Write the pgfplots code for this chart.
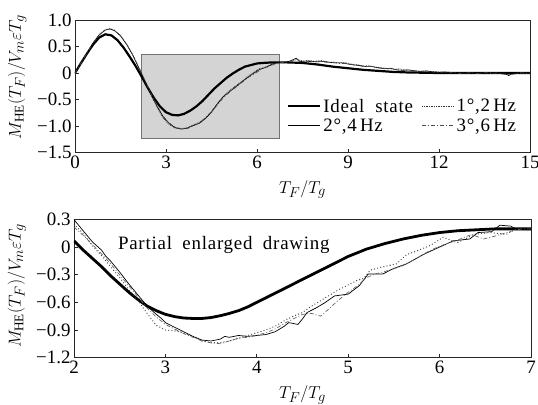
\documentclass[border=0pt]{standalone}
\usepackage{fontspec}
\setmainfont{Liberation Serif}
\usepackage{pgfplots}
\pgfplotsset{compat=1.18}
\begin{document}
\begin{tikzpicture}
\path[use as bounding box] (-75bp,-252.5bp) rectangle (463bp,152.5bp);
\pgfplotsset{
  every axis/.append style={
    scale only axis,
    axis line style={line width=0.9pt, black!85},
    every tick/.style={line width=0.7pt, black!85},
    major tick length=4bp,
    xtick pos=bottom, ytick pos=left,
    tick align=inside,
    tick label style={font=\fontsize{19}{21}\selectfont},
    label style={font=\fontsize{19}{21}\selectfont},
    /pgf/number format/assume math mode=true,
    legend image code/.code={\draw[#1] (0bp,0bp) -- (32bp,0bp);},
  }
}
\begin{axis}[name=top, at={(0,0)}, anchor=south west, width=455bp, height=132.5bp,
  xmin=0, xmax=15, ymin=-1.5, ymax=1.0,
  xtick={0,3,6,9,12,15}, ytick={-1.5,-1,-0.5,0,0.5,1},
  yticklabels={−1.5,−1.0,−0.5,0,0.5,1.0},
  xlabel={$T_F/T_g$}, ylabel={$M_{\mathrm{HE}}(T_F)/V_m\varepsilon T_g$},
  xlabel style={at={(axis description cs:0.5,-0.28)}, anchor=center},
  ylabel style={at={(axis description cs:-0.127,0.57)}, anchor=center},
  legend columns=2, legend cell align=left,
  legend style={at={(axis description cs:0.466,0.42)}, anchor=north west, draw=none, fill=none,
    font=\fontsize{19}{21}\selectfont\addfontfeatures{LetterSpace=4}, inner sep=0pt, row sep=1bp,
    /tikz/every even column/.append style={column sep=7bp}},
]
\addplot[fill=black!17, draw=black!55, line width=0.8pt, forget plot]
  coordinates {(2.2,-1.24) (6.74,-1.24) (6.74,0.35) (2.2,0.35)} -- cycle;
% ideal
\addplot[black, line width=2.2pt] coordinates {
(0,0) (0.2,0.19) (0.4,0.37) (0.6,0.54) (0.8,0.67) (1.0,0.73) (1.2,0.71) (1.4,0.62)
(1.6,0.48) (1.8,0.31) (2.0,0.13) (2.2,-0.07) (2.4,-0.28) (2.6,-0.47) (2.8,-0.63)
(3.0,-0.74) (3.2,-0.79) (3.4,-0.80) (3.6,-0.77) (3.8,-0.71) (4.0,-0.63) (4.2,-0.53)
(4.4,-0.41) (4.6,-0.29) (4.8,-0.19) (5.0,-0.09) (5.2,-0.01) (5.4,0.06) (5.6,0.12)
(5.8,0.15) (6.0,0.18) (6.2,0.19) (6.5,0.20) (7.0,0.20) (7.5,0.19) (8.0,0.16)
(8.5,0.12) (9.0,0.09) (9.5,0.06) (10,0.04) (10.5,0.02) (11,0.01) (11.5,0.005)
(12,0) (13,0) (14,0) (15,0)};
\addlegendentry{Ideal\ \ state}
% 1 deg 2 Hz dotted
\addplot[black!80, line width=0.7pt, densely dotted] coordinates {
(0,0) (0.2,0.19) (0.4,0.38) (0.6,0.58) (0.8,0.73) (1.0,0.82) (1.15,0.84) (1.3,0.81)
(1.5,0.71) (1.7,0.55) (1.9,0.35) (2.1,0.11) (2.3,-0.14) (2.5,-0.41) (2.7,-0.64)
(2.9,-0.85) (3.1,-0.97) (3.3,-1.04) (3.5,-1.05) (3.7,-1.03) (3.9,-0.98) (4.1,-0.93)
(4.3,-0.85) (4.5,-0.72) (4.7,-0.57) (4.9,-0.43) (5.1,-0.33) (5.3,-0.24) (5.5,-0.16)
(5.7,-0.06) (5.9,0.02) (6.1,0.09) (6.3,0.10) (6.5,0.16) (6.7,0.19) (6.9,0.21)
(7.1,0.22) (7.3,0.26) (7.5,0.23) (7.7,0.24) (7.9,0.22) (8.1,0.24) (8.3,0.21)
(8.5,0.21) (8.7,0.19) (8.9,0.20) (9.1,0.17) (9.3,0.16) (9.5,0.13) (9.7,0.14)
(9.9,0.11) (10.1,0.10) (10.3,0.09) (10.5,0.07) (10.7,0.08) (10.9,0.05) (11.1,0.05)
(11.3,0.03) (11.5,0.04) (11.7,0.02) (11.9,0.03) (12.1,0.01) (12.3,0.02) (12.5,0.0)
(12.7,0.01) (12.9,-0.01) (13.1,0.01) (13.3,0.0) (13.5,-0.01) (13.7,0.01) (13.9,-0.01)
(14.1,0.0) (14.3,-0.04) (14.5,-0.01) (14.7,0.01) (14.9,0.0) (15,0.0)};
\addlegendentry{1°,2\,Hz}
% 2 deg 4 Hz solid
\addplot[black, line width=0.6pt] coordinates {
(0,0) (0.2,0.19) (0.4,0.38) (0.6,0.57) (0.8,0.72) (1.0,0.81) (1.15,0.83) (1.3,0.80)
(1.5,0.70) (1.7,0.54) (1.9,0.34) (2.1,0.10) (2.3,-0.15) (2.5,-0.40) (2.7,-0.62)
(2.9,-0.82) (3.1,-0.95) (3.3,-1.03) (3.5,-1.06) (3.7,-1.04) (3.9,-0.99) (4.1,-0.95)
(4.3,-0.86) (4.5,-0.74) (4.7,-0.58) (4.9,-0.44) (5.1,-0.35) (5.3,-0.26) (5.5,-0.17)
(5.7,-0.08) (5.9,0.0) (6.1,0.07) (6.3,0.11) (6.5,0.17) (6.7,0.20) (6.9,0.19)
(7.1,0.23) (7.3,0.28) (7.4,0.22) (7.6,0.21) (7.8,0.22) (8.0,0.21) (8.2,0.22)
(8.4,0.20) (8.6,0.19) (8.8,0.19) (9.0,0.17) (9.2,0.15) (9.4,0.14) (9.6,0.12)
(9.8,0.12) (10.0,0.10) (10.2,0.08) (10.4,0.09) (10.6,0.06) (10.8,0.05) (11.0,0.06)
(11.2,0.04) (11.4,0.03) (11.6,0.04) (11.8,0.02) (12.0,0.01) (12.2,0.02) (12.4,0.0)
(12.6,0.01) (12.8,0.0) (13.0,-0.01) (13.2,0.01) (13.4,0.0) (13.6,-0.01) (13.8,0.0)
(14.0,-0.01) (14.2,-0.02) (14.3,-0.05) (14.4,-0.01) (14.6,0.0) (14.8,-0.01) (15.0,0.0)};
\addlegendentry{2°,4\,Hz}
% 3 deg 6 Hz dash-dot
\addplot[black!70, line width=0.6pt, dash pattern=on 4bp off 2bp on 1bp off 2bp] coordinates {
(0,0) (0.2,0.19) (0.4,0.38) (0.6,0.57) (0.8,0.72) (1.0,0.81) (1.15,0.83) (1.3,0.80)
(1.5,0.71) (1.7,0.55) (1.9,0.35) (2.1,0.11) (2.3,-0.13) (2.5,-0.39) (2.7,-0.61)
(2.9,-0.81) (3.1,-0.94) (3.3,-1.02) (3.5,-1.05) (3.7,-1.05) (3.9,-1.00) (4.1,-0.94)
(4.3,-0.84) (4.5,-0.73) (4.7,-0.60) (4.9,-0.46) (5.1,-0.36) (5.3,-0.27) (5.5,-0.18)
(5.7,-0.09) (5.9,-0.02) (6.1,0.05) (6.3,0.12) (6.5,0.15) (6.7,0.19) (6.9,0.20)
(7.1,0.22) (7.3,0.25) (7.5,0.21) (7.7,0.23) (7.9,0.21) (8.1,0.22) (8.3,0.20)
(8.5,0.20) (8.7,0.18) (8.9,0.18) (9.1,0.16) (9.3,0.15) (9.5,0.12) (9.7,0.13)
(9.9,0.10) (10.1,0.09) (10.3,0.08) (10.5,0.08) (10.7,0.05) (10.9,0.06) (11.1,0.04)
(11.3,0.04) (11.5,0.02) (11.7,0.03) (11.9,0.01) (12.1,0.02) (12.3,0.0) (12.5,0.01)
(12.7,-0.01) (12.9,0.0) (13.1,0.0) (13.3,-0.01) (13.5,0.01) (13.7,-0.01) (13.9,0.0)
(14.1,-0.02) (14.3,-0.03) (14.5,-0.02) (14.7,0.0) (14.9,-0.01) (15,0.0)};
\addlegendentry{3°,6\,Hz}
\end{axis}

\begin{axis}[name=bot, at={(-1bp,-205bp)}, anchor=south west, width=457bp, height=137.8bp,
  xmin=2, xmax=7, ymin=-1.2, ymax=0.3,
  xtick={2,3,4,5,6,7}, ytick={-1.2,-0.9,-0.6,-0.3,0,0.3},
  yticklabels={−1.2,−0.9,−0.6,−0.3,0,0.3},
  xlabel={$T_F/T_g$}, ylabel={$M_{\mathrm{HE}}(T_F)/V_m\varepsilon T_g$},
  xlabel style={at={(axis description cs:0.5,-0.272)}, anchor=center},
  ylabel style={at={(axis description cs:-0.125,0.52)}, anchor=center},
]
\node[anchor=west, inner sep=0pt, font=\fontsize{19}{21}\selectfont\addfontfeatures{LetterSpace=4}] at (axis cs:2.48,0.025) {Partial\hspace{0.55em}enlarged\hspace{0.55em}drawing};
% ideal
\addplot[black, line width=2.8pt] coordinates {
(2.0,0.07) (2.1,-0.03) (2.2,-0.12) (2.3,-0.21) (2.4,-0.31) (2.5,-0.40) (2.6,-0.49)
(2.7,-0.57) (2.8,-0.64) (2.9,-0.69) (3.0,-0.73) (3.1,-0.755) (3.2,-0.77) (3.3,-0.775)
(3.4,-0.775) (3.5,-0.765) (3.6,-0.745) (3.7,-0.72) (3.8,-0.69) (3.9,-0.65) (4.0,-0.60)
(4.2,-0.50) (4.4,-0.40) (4.6,-0.30) (4.8,-0.20) (5.0,-0.10) (5.2,-0.02) (5.4,0.04)
(5.6,0.09) (5.8,0.13) (6.0,0.16) (6.2,0.18) (6.4,0.19) (6.6,0.20) (6.8,0.20) (7.0,0.20)};
% dotted
\addplot[black!75, line width=1.3pt, line cap=round, dash pattern=on 0pt off 3.2bp] coordinates {
(2.0,0.25) (2.1,0.15) (2.2,0.02) (2.3,-0.09) (2.4,-0.21) (2.5,-0.33) (2.6,-0.46)
(2.7,-0.58) (2.8,-0.72) (2.9,-0.85) (3.0,-0.90) (3.1,-0.91) (3.2,-0.93) (3.3,-0.97)
(3.4,-1.02) (3.5,-1.04) (3.6,-1.04) (3.7,-1.02) (3.8,-0.99) (3.9,-0.96) (4.0,-0.93)
(4.1,-0.90) (4.2,-0.86) (4.3,-0.80) (4.4,-0.75) (4.5,-0.71) (4.6,-0.64) (4.7,-0.58)
(4.8,-0.52) (4.9,-0.46) (5.0,-0.41) (5.1,-0.36) (5.17,-0.34) (5.24,-0.25) (5.35,-0.22)
(5.53,-0.18) (5.64,-0.08) (5.75,-0.04) (5.9,0.02) (6.04,0.11) (6.19,0.05) (6.3,0.10)
(6.37,0.14) (6.55,0.16) (6.73,0.14) (6.84,0.20) (7.0,0.19)};
% solid
\addplot[black, line width=0.7pt] coordinates {
(2.0,0.30) (2.1,0.18) (2.2,0.06) (2.3,-0.03) (2.35,-0.10) (2.4,-0.15) (2.5,-0.27)
(2.6,-0.40) (2.7,-0.52) (2.8,-0.64) (2.9,-0.73) (2.95,-0.77) (3.0,-0.82) (3.1,-0.87)
(3.2,-0.92) (3.3,-0.97) (3.4,-1.01) (3.5,-1.02) (3.6,-1.00) (3.65,-0.97) (3.7,-0.98)
(3.8,-0.96) (3.9,-0.97) (4.0,-0.96) (4.1,-0.95) (4.2,-0.92) (4.3,-0.86) (4.35,-0.82)
(4.45,-0.84) (4.5,-0.78) (4.55,-0.71) (4.65,-0.66) (4.75,-0.60) (4.85,-0.53)
(5.0,-0.51) (5.12,-0.42) (5.22,-0.29) (5.38,-0.29) (5.5,-0.23) (5.64,-0.18)
(5.82,-0.08) (5.95,-0.02) (6.04,0.02) (6.15,0.07) (6.33,0.09) (6.42,0.16) (6.57,0.17)
(6.66,0.24) (6.78,0.23) (6.85,0.19) (7.0,0.19)};
% dash-dot
\addplot[black!60, line width=0.7pt, dash pattern=on 4bp off 2bp on 1bp off 2bp] coordinates {
(2.0,0.22) (2.1,0.13) (2.2,0.03) (2.3,-0.07) (2.4,-0.18) (2.5,-0.30) (2.6,-0.42)
(2.7,-0.54) (2.8,-0.66) (2.9,-0.76) (3.0,-0.84) (3.1,-0.89) (3.2,-0.94) (3.3,-0.98)
(3.4,-1.02) (3.5,-1.04) (3.6,-1.05) (3.7,-1.02) (3.8,-0.99) (3.9,-0.98) (4.0,-0.96)
(4.1,-0.93) (4.2,-0.89) (4.3,-0.83) (4.4,-0.78) (4.5,-0.73) (4.6,-0.72) (4.7,-0.75)
(4.8,-0.66) (4.9,-0.57) (5.0,-0.49) (5.1,-0.42) (5.2,-0.33) (5.3,-0.29) (5.45,-0.25)
(5.6,-0.20) (5.75,-0.12) (5.85,-0.06) (5.95,-0.01) (6.05,0.03) (6.2,0.08) (6.35,0.14)
(6.48,0.09) (6.6,0.12) (6.7,0.15) (6.8,0.18) (6.9,0.20) (7.0,0.20)};
\end{axis}
\end{tikzpicture}
\end{document}
